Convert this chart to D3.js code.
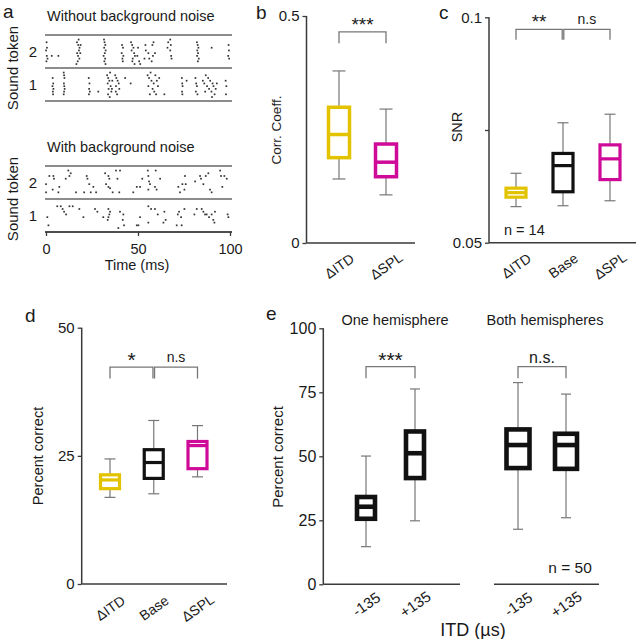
<!DOCTYPE html>
<html><head><meta charset="utf-8">
<script src="https://cdn.jsdelivr.net/npm/d3@7"></script>
<style>
body{margin:0;background:#fff}
svg{display:block}
text{font-family:Arial,"Liberation Sans",sans-serif;fill:#1a1a1a}
</style>
</head><body>
<svg id="fig" width="637" height="639"></svg>
<script>
// ---------------- DATA ----------------
const timeTicks = [0, 50, 100];
const tokens = ["2", "1"];
// spikes: [time (ms), trial index 0-9]
const quietTok2 = [[0.3,1],[0.5,3],[0,4],[0.4,6],[0.8,7],[0.2,8],[3.1,6],[6.7,6],
 [16.8,1],[17.5,2],[18.2,3],[17.9,4],[16.9,5],[18.6,5],[17.4,6],[18.1,7],[17.2,8],[18.8,2],[16.5,9],[17.7,0],
 [31.5,0],[31.8,1],[32.2,2],[31.6,3],[32.4,4],[31.9,5],[31.3,6],[32.1,7],[31.7,8],[32.3,9],
 [41.3,2],[41.8,3],[41.1,5],[42.0,6],[41.5,7],[41.7,8],
 [46.2,1],[46.8,2],[47.5,3],[46.5,4],[47.9,5],[48.3,6],[47.1,7],[46.9,8],[48.1,9],
 [49.6,6],[51.2,9],[53.5,7],[54.0,2],[55.6,5],[57.4,8],[57.8,2],[58.1,6],[50.0,3],[50.6,8],[54.2,4],[56.1,7],[58.4,1],[59.2,5],
 [66.0,3],[66.4,1],[67.5,0],[67.8,2],[67.5,4],[68.0,6],[68.2,7],
 [82.0,1],[82.4,2],[82.8,3],[82.2,4],[82.6,5],[82.1,6],[83.0,7],[82.5,8],
 [90.0,3],[99.2,2],[99.4,4],[99.0,6],[99.5,7]];
const quietTok1 = [[3.6,2],[3.9,4],[3.5,5],[4.0,6],[3.7,7],[3.8,8],
 [9.6,0],[9.8,1],[10.0,2],[9.7,4],[9.9,5],[10.1,6],[9.8,7],[9.6,8],
 [23.2,2],[23.6,4],[23.4,6],[23.8,7],[23.3,8],[28.4,7],
 [33.2,1],[33.8,2],[34.4,3],[33.5,4],[35.1,5],[34.0,6],[34.8,0],[35.5,7],[33.7,8],[34.6,9],[36.0,3],[35.8,6],
 [37.6,1],[38.2,2],[38.9,3],[39.5,4],[38.0,5],[39.8,6],[37.9,7],[38.6,8],
 [43.0,2],[46.0,4],
 [55.2,1],[56.0,2],[56.8,0],[57.3,3],[58.5,4],[55.6,5],[57.9,6],[59.4,1],[60.2,3],[58.8,7],[60.8,5],[61.5,2],[56.4,8],[59.8,8],
 [64.3,8],[73.8,2],[74.0,4],[74.2,5],[73.9,7],[74.1,8],[76.4,3],
 [81.2,2],[81.6,4],[82.0,5],[81.4,7],[82.3,8],
 [85.2,3],[86.0,4],[86.8,1],[87.5,5],[88.1,2],[88.6,6],[89.2,3],[89.9,7],[90.5,4],[91.0,5],[91.6,8],[92.2,6],[92.8,4],[86.5,7],[90.2,9],
 [97.6,3],[98.0,5],[97.8,8]];
const noiseTok2 = [[0,5],[0,8],[1.8,2],[4,2],[4.3,3],[3.6,7],[7.2,6],[6.7,8],[10.7,3],[12.1,0],[13.4,1],[12.7,2],[16.3,8],[20.7,8],
 [22.1,2],[22.5,3],[23.5,5],[24.3,8],[25.7,6],[27.2,8],[32.1,1],[33.9,2],[34.4,3],[32.6,5],[33.9,6],[36.2,8],[34.8,6.5],[38,0],
 [40.2,0],[38.8,3],[39.8,8],[47.4,8],[49.3,6],[51.1,6],[52.3,3],[55.3,0],[55.6,2],[56,4],[56.5,5],[55.6,7],[59.6,0],[59.2,6],
 [60.1,7],[62,3],[71.9,6],[72.8,8],[74.1,5],[75.2,7],[75.5,2],[75.9,5],[81,4],[83.7,2],[84.2,3],[85.5,5],[86.8,2],[88.2,1],
 [89.1,7],[90,8],[94.6,0],[95.1,2],[96.9,2],[98.2,3],[95.8,6]];
const noiseTok1 = [[0.7,5],[1.3,8],[6.1,1],[8,1],[9,2],[9.8,3],[10.9,4],[12.7,1],[14.5,1],[18.1,2],[20.3,5],[26.6,2],[27.9,3],
 [31.1,5],[33.9,2],[34.8,3],[34.4,4],[33.5,6],[33.9,5],[39.3,9],[40.2,3],[42,4],[41.7,6],[42.4,8],[49.3,8],[50.2,8],[51.1,5],
 [55.6,1],[57.1,2],[55.6,7],[59.2,2],[60.7,4],[64.3,3],[63.8,7],[65,6],[71,8],[71.6,4],[72.3,3],[73.4,5],[73.7,8],[75.2,2],
 [81.9,2],[80.6,4],[84.6,2],[85.5,3],[86.4,4],[87.3,4],[88.6,5],[90,4],[90.9,6],[91.5,7],[91.8,3],[98.7,4],[99.1,5]];

// box stats: [whisker low, Q1, median, Q3, whisker high]
const bCats = ["ΔITD", "ΔSPL"];
const bTicks = [0, 0.5];
const bITD = [0.141, 0.188, 0.239, 0.299, 0.379];
const bSPL = [0.106, 0.146, 0.178, 0.218, 0.295];

const cCats = ["ΔITD", "Base", "ΔSPL"];
const cTicks = [0.05, 0.075, 0.1];
const cITD  = [0.0580, 0.0601, 0.0611, 0.0621, 0.0654];
const cBase = [0.0582, 0.0613, 0.0671, 0.0698, 0.0766];
const cSPL  = [0.0593, 0.0640, 0.0686, 0.0717, 0.0785];

const dCats = ["ΔITD", "Base", "ΔSPL"];
const dTicks = [0, 25, 50];
const dITD  = [16.9, 18.6, 20.3, 21.3, 24.4];
const dBase = [17.6, 20.6, 23.7, 26.2, 31.9];
const dSPL  = [20.9, 22.5, 27.0, 27.8, 30.9];

const eCats = ["-135", "+135"];
const eTicks = [0, 25, 50, 75, 100];
const eOneNeg  = [14.7, 25.6, 30.3, 34.1, 50.1];
const eOnePos  = [24.8, 41.5, 51.2, 59.7, 76.3];
const eBothNeg = [21.5, 45.4, 54.4, 60.5, 78.8];
const eBothPos = [26.0, 45.1, 54.4, 58.8, 74.3];

const YELLOW = "#e3c300", MAGENTA = "#cf0a98", BLACK = "#111";

// ---------------- DRAW ----------------
const svg = d3.select("#fig");
const AX = "#3a3a3a", GR = "#777";

function letter(t, x, y) {
  svg.append("text").attr("x", x).attr("y", y).attr("font-size", 19).text(t);
}

// ===== Panel a =====
letter("a", 3, 18);
const xt = d3.scaleLinear().domain([0, 100]).range([46, 230]);
function raster(top, title, rows) {
  const band = d3.scaleBand().domain(tokens).range([top, top + 66]);
  svg.append("text").attr("x", 47).attr("y", top - 14).attr("font-size", 14.5).text(title);
  [top, top + 33, top + 66].forEach(y => {
    svg.append("line").attr("x1", 45).attr("x2", 232).attr("y1", y).attr("y2", y)
      .attr("stroke", "#666").attr("stroke-width", 1.5);
  });
  tokens.forEach((tk, i) => {
    const y0 = band(tk);
    const ty = d3.scaleLinear().domain([0, 9]).range([y0 + 4.5, y0 + 29]);
    svg.append("g").selectAll("rect").data(rows[i]).join("rect")
      .attr("x", d => xt(d[0]) - 0.8).attr("y", d => ty(d[1]) - 0.8)
      .attr("width", 1.7).attr("height", 1.7).attr("fill", "#333");
    svg.append("text").attr("x", 33).attr("y", y0 + band.bandwidth() / 2 + 5)
      .attr("text-anchor", "middle").attr("font-size", 15).text(tk);
  });
  svg.append("text").attr("transform", `translate(18,${top + 33}) rotate(-90)`)
    .attr("text-anchor", "middle").attr("font-size", 15).text("Sound token");
}
raster(35, "Without background noise", [quietTok2, quietTok1]);
raster(166, "With background noise", [noiseTok2, noiseTok1]);
const ta = svg.append("g").attr("transform", "translate(0,232)")
  .call(d3.axisBottom(xt).tickValues(timeTicks).tickSize(4).tickPadding(8));
ta.select(".domain").attr("stroke", AX).attr("stroke-width", 1.5).attr("d", "M45,0H232");
ta.selectAll(".tick line").attr("stroke", AX).attr("stroke-width", 1.3);
ta.selectAll("text").attr("font-size", 14.5).attr("fill", "#1a1a1a");
svg.append("text").attr("x", 137).attr("y", 270).attr("text-anchor", "middle").attr("font-size", 14.5).text("Time (ms)");

// ===== box-plot helpers =====
function yAxis(y, x, ticks, fmt, fs, x2) {
  const g = svg.append("g").attr("transform", `translate(${x},0)`)
    .call(d3.axisLeft(y).tickValues(ticks).tickSize(4).tickPadding(3).tickFormat(fmt));
  g.select(".domain").attr("stroke", AX).attr("stroke-width", 1.5)
    .attr("d", `M0,${y.range()[0]}V${y.range()[1]}`);
  g.selectAll(".tick line").attr("stroke", AX).attr("stroke-width", 1.3);
  g.selectAll("text").attr("font-size", fs).attr("fill", "#1a1a1a");
  svg.append("line").attr("x1", x).attr("x2", x2).attr("y1", y.range()[0]).attr("y2", y.range()[0])
    .attr("stroke", AX).attr("stroke-width", 1.5);
}
function box(y, cx, s, color, w, sw, cap) {
  const g = svg.append("g");
  g.append("line").attr("x1", cx).attr("x2", cx).attr("y1", y(s[0])).attr("y2", y(s[4]))
    .attr("stroke", GR).attr("stroke-width", 1.2);
  [s[0], s[4]].forEach(v => g.append("line").attr("x1", cx - cap / 2).attr("x2", cx + cap / 2)
    .attr("y1", y(v)).attr("y2", y(v)).attr("stroke", GR).attr("stroke-width", 1.2));
  g.append("rect").attr("x", cx - w / 2).attr("width", w).attr("y", y(s[3])).attr("height", y(s[1]) - y(s[3]))
    .attr("fill", "#fff").attr("stroke", color).attr("stroke-width", sw);
  g.append("line").attr("x1", cx - w / 2).attr("x2", cx + w / 2).attr("y1", y(s[2])).attr("y2", y(s[2]))
    .attr("stroke", color).attr("stroke-width", sw);
}
function bracket(y, x1, x2, vTop, vBot, label, fs, dy) {
  svg.append("path").attr("d", `M${x1},${y(vBot)}V${y(vTop)}H${x2}V${y(vBot)}`)
    .attr("fill", "none").attr("stroke", GR).attr("stroke-width", 1.3);
  svg.append("text").attr("x", (x1 + x2) / 2).attr("y", y(vTop) - dy).attr("text-anchor", "middle")
    .attr("font-size", fs).text(label);
}
function xLabels(cats, xs, yBase, fs, dy, ang) {
  cats.forEach((c, i) => {
    svg.append("text").attr("transform", `translate(${xs(c) + 1},${yBase + dy}) rotate(${ang})`)
      .attr("text-anchor", "middle").attr("dominant-baseline", "middle").attr("font-size", fs).text(c);
  });
}

// ===== Panel b =====
letter("b", 256, 19);
const yb = d3.scaleLinear().domain([0, 0.5]).range([243, 16]);
const xb = d3.scalePoint().domain(bCats).range([339, 386]);
yAxis(yb, 306.5, bTicks, d3.format(""), 15, 415);
box(yb, xb("ΔITD"), bITD, YELLOW, 21, 3.5, 13);
box(yb, xb("ΔSPL"), bSPL, MAGENTA, 21, 3.5, 13);
bracket(yb, xb("ΔITD"), xb("ΔSPL"), 0.465, 0.44, "***", 19, 1);
xLabels(bCats, xb, 243, 14, 24, -35);
svg.append("text").attr("transform", "translate(281,130) rotate(-90)").attr("text-anchor", "middle")
  .attr("font-size", 13.5).text("Corr. Coeff.");

// ===== Panel c =====
letter("c", 439, 19);
const yc = d3.scaleLinear().domain([0.05, 0.1]).range([242.7, 17.3]);
const xc = d3.scalePoint().domain(cCats).range([516, 610]);
yAxis(yc, 489, cTicks, d => d === 0.075 ? "" : d3.format("")(d), 15, 636);
box(yc, xc("ΔITD"), cITD, YELLOW, 20, 3.2, 11);
box(yc, xc("Base"), cBase, BLACK, 20, 3.2, 11);
box(yc, xc("ΔSPL"), cSPL, MAGENTA, 20, 3.2, 11);
bracket(yc, xc("ΔITD"), xc("Base") - 0.8, 0.0973, 0.0950, "**", 19, 1);
bracket(yc, xc("Base") + 0.8, xc("ΔSPL"), 0.0973, 0.0950, "n.s", 14, 5);
xLabels(cCats, xc, 242.7, 14, 24, -35);
svg.append("text").attr("transform", "translate(462,127) rotate(-90)").attr("text-anchor", "middle")
  .attr("font-size", 14.5).text("SNR");
svg.append("text").attr("x", 504).attr("y", 235).attr("font-size", 14.5).text("n = 14");

// ===== Panel d =====
letter("d", 25, 322);
const yd = d3.scaleLinear().domain([0, 50]).range([584, 327.7]);
const xd = d3.scalePoint().domain(dCats).range([110, 197.5]);
yAxis(yd, 81.7, dTicks, d3.format(""), 15, 227);
box(yd, xd("ΔITD"), dITD, YELLOW, 19, 3.2, 11);
box(yd, xd("Base"), dBase, BLACK, 19, 3.2, 11);
box(yd, xd("ΔSPL"), dSPL, MAGENTA, 19, 3.2, 11);
bracket(yd, xd("ΔITD"), xd("Base") - 0.8, 42.3, 40.1, "*", 21, 0);
bracket(yd, xd("Base") + 0.8, xd("ΔSPL"), 42.3, 40.1, "n.s", 14, 5);
xLabels(dCats, xd, 584, 14, 25, -35);
svg.append("text").attr("transform", "translate(43,456) rotate(-90)").attr("text-anchor", "middle")
  .attr("font-size", 14.5).text("Percent correct");

// ===== Panel e =====
letter("e", 266, 320);
const ye = d3.scaleLinear().domain([0, 100]).range([584.3, 328.3]);
const xe1 = d3.scalePoint().domain(eCats).range([366, 415]);
const xe2 = d3.scalePoint().domain(eCats).range([518, 566]);
yAxis(ye, 323.3, eTicks, d3.format(""), 16, 460);
svg.append("line").attr("x1", 494).attr("x2", 599).attr("y1", ye(0)).attr("y2", ye(0))
  .attr("stroke", AX).attr("stroke-width", 1.5);
box(ye, xe1("-135"), eOneNeg, BLACK, 18, 4.6, 10);
box(ye, xe1("+135"), eOnePos, BLACK, 18, 4.6, 10);
box(ye, xe2("-135"), eBothNeg, BLACK, 23, 4.6, 10);
box(ye, xe2("+135"), eBothPos, BLACK, 22, 4.6, 10);
bracket(ye, xe1("-135"), xe1("+135"), 85.0, 80.5, "***", 21, 0);
bracket(ye, xe2("-135"), xe2("+135"), 85.0, 80.5, "n.s.", 16, 4);
xLabels(eCats, xe1, 584.3, 15, 21, -35);
xLabels(eCats, xe2, 584.3, 15, 21, -35);
svg.append("text").attr("x", 395).attr("y", 325).attr("text-anchor", "middle").attr("font-size", 14.5).text("One hemisphere");
svg.append("text").attr("x", 545).attr("y", 325).attr("text-anchor", "middle").attr("font-size", 14.5).text("Both hemispheres");
svg.append("text").attr("transform", "translate(283,457) rotate(-90)").attr("text-anchor", "middle")
  .attr("font-size", 15).text("Percent correct");
svg.append("text").attr("x", 570).attr("y", 573).attr("text-anchor", "middle").attr("font-size", 15.5).text("n = 50");
svg.append("text").attr("x", 473).attr("y", 636).attr("text-anchor", "middle").attr("font-size", 18).text("ITD (µs)");
</script>
</body></html>
